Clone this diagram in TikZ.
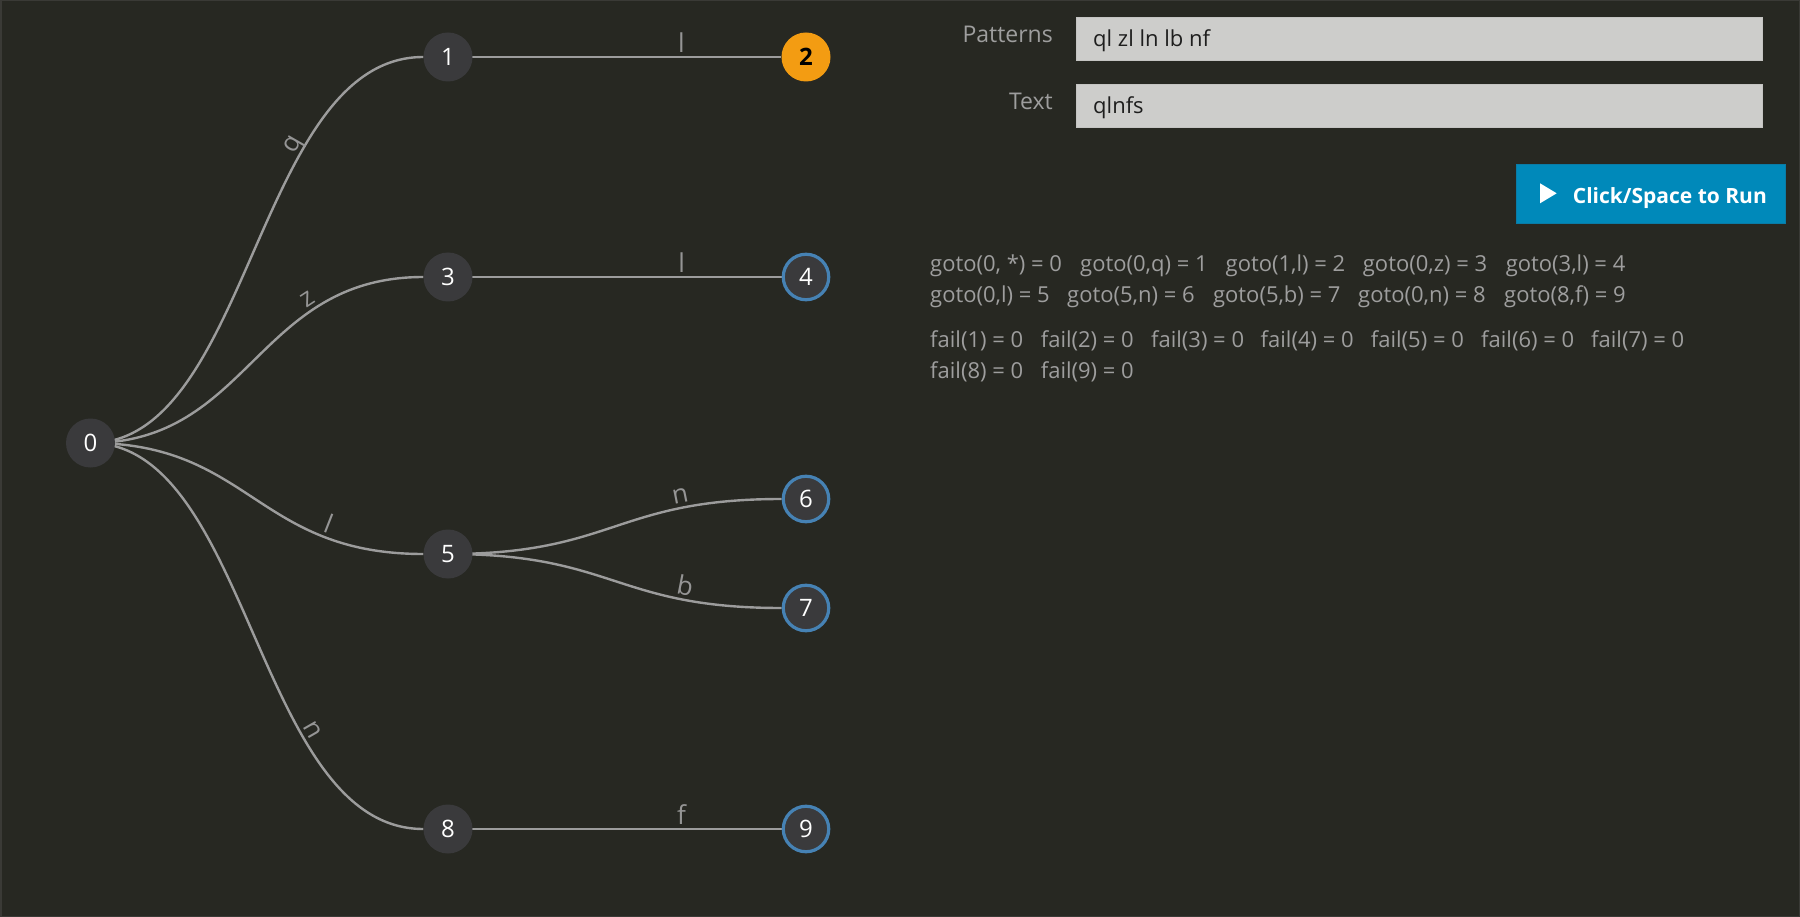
\documentclass[tikz,border=0pt]{standalone}
\usepackage{fontspec}
\setmainfont{Open Sans}
\usetikzlibrary{calc}
\definecolor{bgc}{HTML}{272822}
\definecolor{framec}{HTML}{3A3A36}
\definecolor{nodec}{HTML}{3A3A3C}
\definecolor{edgec}{HTML}{9C9C9C}
\definecolor{lblc}{HTML}{959595}
\definecolor{ringc}{HTML}{4682B4}
\definecolor{orangec}{HTML}{F39C12}
\definecolor{boxc}{HTML}{CDCDCB}
\definecolor{boxedge}{HTML}{C4C4C2}
\definecolor{btnc}{HTML}{0089BA}
\definecolor{btnedge}{HTML}{0A7BA6}
\definecolor{txtc}{HTML}{9E9E9E}
\definecolor{inputtxt}{HTML}{1E1E1E}
\pgfdeclarelayer{bg}
\pgfdeclarelayer{edges}
\pgfsetlayers{bg,edges,main}
\begin{document}
\begin{tikzpicture}[x=1pt,y=-1pt,
  tnode/.style={circle, fill=nodec, minimum size=49pt, inner sep=0pt, text=white,
    font=\fontsize{24}{24}\selectfont},
  ringnode/.style={tnode, draw=ringc, line width=3.2pt, minimum size=45.5pt},
  hitnode/.style={tnode, fill=orangec, text=black, font=\fontsize{24}{24}\selectfont\bfseries},
  link/.style={draw=edgec, line width=2.4pt},
  lbl/.style={sloped, above, text=lblc, font=\fontsize{26}{26}\selectfont,
    inner sep=3.5pt, text depth=0pt},
  info/.style={anchor=base west, inner sep=0pt, text=txtc, font=\fontsize{22}{22}\selectfont},
  formlabel/.style={anchor=base east, inner sep=0pt, text=txtc, font=\fontsize{23}{23}\selectfont},
  inputbox/.style={fill=boxc, draw=boxedge, line width=0.8pt},
  inputtext/.style={anchor=base west, inner sep=0pt, text=inputtxt, font=\fontsize{22}{22}\selectfont},
  button/.style={fill=btnc, draw=btnedge, line width=1pt},
  buttontext/.style={anchor=base west, inner sep=0pt, text=white, font=\fontsize{21}{21}\selectfont\bfseries}
]
% page and background
\begin{pgfonlayer}{bg}
\fill[bgc] (0,0) rectangle (1800,917);
\draw[framec, line width=1.5pt] (0.75,0.75) rectangle (1799.25,916.25);
\end{pgfonlayer}
\useasboundingbox (0,0) rectangle (1800,917);

% trie nodes
\node[tnode]    (n0) at (90.5,443) {0};
\node[tnode]    (n1) at (448,57)   {1};
\node[hitnode]  (n2) at (806,57)   {2};
\node[tnode]    (n3) at (448,277)  {3};
\node[ringnode] (n4) at (806,277)  {4};
\node[tnode]    (n5) at (448,554)  {5};
\node[ringnode] (n6) at (806,499)  {6};
\node[ringnode] (n7) at (806,608)  {7};
\node[tnode]    (n8) at (448,829)  {8};
\node[ringnode] (n9) at (806,829)  {9};

% trie edges
\begin{pgfonlayer}{edges}
\draw[link] (n0.center) .. controls +(160,0) and +(-167,0) .. node[lbl,pos=0.68]{q} (n1.west);
\draw[link] (n0.center) .. controls +(160,0) and +(-167,0) .. node[lbl,pos=0.72]{z} (n3.west);
\draw[link] (n0.center) .. controls +(160,0) and +(-167,0) .. node[lbl,pos=0.75]{l} (n5.west);
\draw[link] (n0.center) .. controls +(160,0) and +(-167,0) .. node[lbl,pos=0.68]{n} (n8.west);
\draw[link] (n1.center) -- node[lbl,pos=0.70]{l} (n2.west);
\draw[link] (n3.center) -- node[lbl,pos=0.70]{l} (n4.west);
\draw[link] (n5.center) .. controls +(167,0) and +(-167,0) .. node[lbl,pos=0.75]{n} (n6.west);
\draw[link] (n5.center) .. controls +(167,0) and +(-167,0) .. node[lbl,pos=0.75]{b} (n7.west);
\draw[link] (n8.center) -- node[lbl,pos=0.70]{f} (n9.west);
\end{pgfonlayer}

% form
\node[formlabel] (patlbl) at (1053,42.3) {Patterns};
\draw[inputbox] (1076,17.3) rectangle (1762,60.7);
\node[inputtext] (patval) at (1093,46.7) {ql zl ln lb nf};
\node[formlabel] (txtlbl) at (1053,110) {Text};
\draw[inputbox] (1076,84) rectangle (1762,127.3);
\node[inputtext] (txtval) at (1093,113.3) {qlnfs};

% button
\draw[button] (1516,165) rectangle (1785,224);
\fill[white] (1540,183.3) -- (1540,203.3) -- (1556.7,193.3) -- cycle;
\node[buttontext] (run) at (1572.7,203.3) {Click/Space to Run};

% goto function
\node[info] (g1) at (930,272)    {goto(0, *) = 0};
\node[info] (g2) at (1080,272)   {goto(0,q) = 1};
\node[info] (g3) at (1225.5,272) {goto(1,l) = 2};
\node[info] (g4) at (1362.7,272) {goto(0,z) = 3};
\node[info] (g5) at (1505.6,272) {goto(3,l) = 4};
\node[info] (g6) at (930,303)    {goto(0,l) = 5};
\node[info] (g7) at (1067,303)   {goto(5,n) = 6};
\node[info] (g8) at (1212.9,303) {goto(5,b) = 7};
\node[info] (g9) at (1358,303)   {goto(0,n) = 8};
\node[info] (g10) at (1504,303)  {goto(8,f) = 9};

% fail function
\node[info] (f1) at (930,348)    {fail(1) = 0};
\node[info] (f2) at (1040.6,348) {fail(2) = 0};
\node[info] (f3) at (1150.9,348) {fail(3) = 0};
\node[info] (f4) at (1260.5,348) {fail(4) = 0};
\node[info] (f5) at (1370.7,348) {fail(5) = 0};
\node[info] (f6) at (1481,348)   {fail(6) = 0};
\node[info] (f7) at (1591,348)   {fail(7) = 0};
\node[info] (f8) at (930,378)    {fail(8) = 0};
\node[info] (f9) at (1040.6,378) {fail(9) = 0};
\end{tikzpicture}
\end{document}
